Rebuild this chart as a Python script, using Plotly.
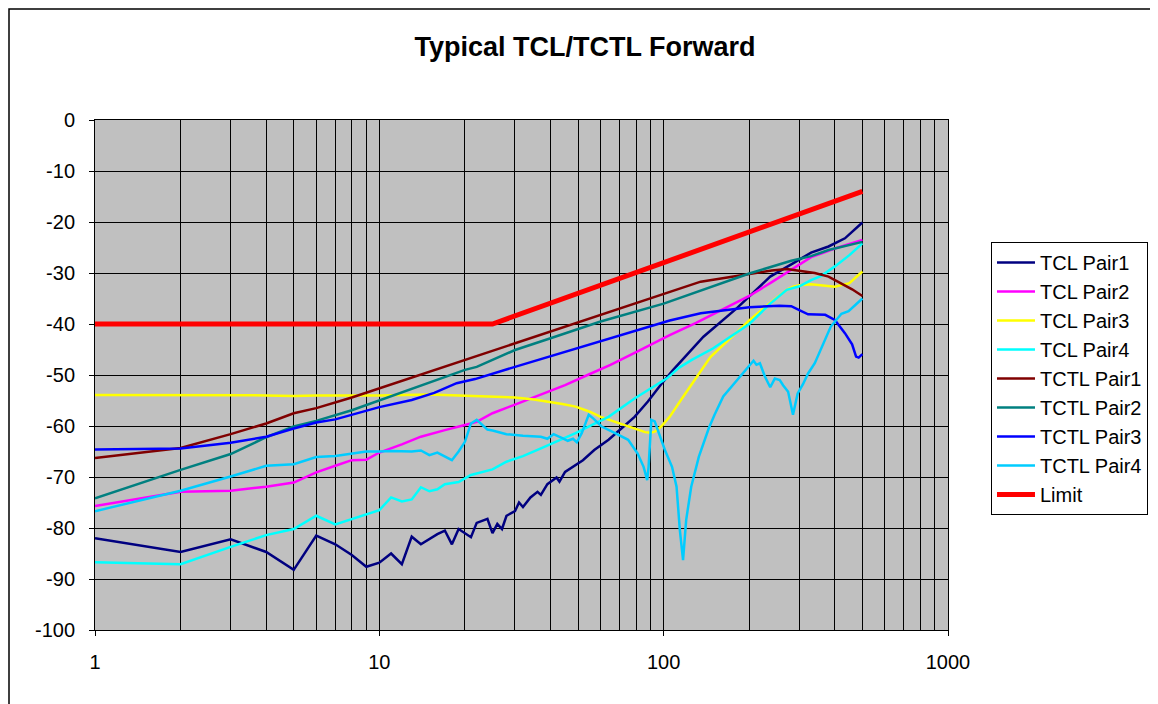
import plotly.graph_objects as go

# 频率 (MHz) 与各曲线数值 (dB)
tcl1_f = [1, 2, 3, 4, 5, 6, 7, 8, 9, 10, 11, 12, 13, 14, 16, 17, 18, 19, 21, 22, 24, 25, 26, 27, 28, 30,
          31, 32, 34, 36, 37, 39, 42, 43, 45, 48, 52, 57, 64, 71, 79, 88, 98, 108, 138, 181, 200, 237,
          285, 330, 380, 434, 500]
tcl1_v = [-82, -84.7, -82.2, -84.7, -88.2, -81.5, -83.2, -85.3, -87.6, -86.8, -85, -87.1, -81.7, -83.2,
          -81.2, -80.5, -83.2, -80.2, -81.8, -79, -78.2, -81, -79.2, -80.2, -77.6, -76.7, -75, -75.9, -74,
          -72.9, -73.5, -71.4, -70.1, -70.9, -69, -68, -66.7, -64.7, -62.7, -60.5, -58.2, -55.2, -51.8,
          -49, -42.5, -36.9, -34.6, -30.7, -28.1, -26, -24.8, -23.2, -20.1]

tcl2_f = [1, 2, 3, 4, 5, 6, 7, 8, 9, 10, 12, 14, 17, 18, 20, 22, 25, 30, 33, 36, 45, 54, 65, 80, 93, 105,
          130, 160, 200, 240, 280, 330, 400, 500]
tcl2_v = [-75.7, -72.9, -72.7, -71.9, -71.1, -69.1, -67.8, -66.7, -66.6, -65.2, -63.6, -62.1, -60.8, -60.5,
          -59.8, -59.2, -57.5, -55.8, -54.9, -54.1, -52.0, -50.0, -48.0, -45.5, -43.6, -42.2, -39.8, -37.2,
          -34.5, -31.8, -29.4, -26.9, -25.2, -23.5]

tcl3_f = [1, 2, 3, 4, 5, 6, 8, 10, 15, 20, 25, 30, 35, 39, 44, 49, 55, 60, 66, 71, 79, 86, 90, 93, 98,
          105, 115, 130, 146, 170, 200, 235, 271, 285, 300, 330, 400, 450, 500]
tcl3_v = [-53.9, -53.9, -53.9, -54.0, -54.1, -54.0, -54.0, -54.0, -53.8, -54.0, -54.2, -54.4, -54.8, -55.2,
          -55.7, -56.2, -57.2, -58.2, -59.0, -59.5, -60.5, -61.2, -61.3, -61.1, -60.1, -58.2, -54.9, -50.5,
          -46.5, -43.0, -39.3, -36.0, -33.3, -32.7, -32.4, -32.2, -32.7, -32.0, -29.7]

tcl4_f = [1, 2, 3, 4, 5, 6, 7, 8, 9, 10, 11, 12, 13, 14, 15, 16, 17, 19, 21, 25, 28, 32, 37, 42, 49, 56,
          64, 79, 88, 97, 103, 113, 126, 149, 167, 200, 237, 271, 300, 330, 360, 400, 450, 500]
tcl4_v = [-86.7, -87.1, -83.7, -81.4, -80.2, -77.6, -79.3, -78.2, -77.3, -76.5, -74.0, -74.8, -74.4, -72.0,
          -72.8, -72.4, -71.4, -71.0, -69.6, -68.5, -67.0, -65.9, -64.4, -63.1, -61.4, -59.8, -58.2, -54.6,
          -53.0, -51.6, -50.6, -48.6, -47.0, -44.8, -43.0, -40.0, -36.0, -33.3, -32.6, -31.4, -30.5, -28.7,
          -26.5, -24.2]

tctl1_f = [1, 2, 3, 4, 5, 6, 8, 10, 14, 20, 30, 40, 60, 93, 135, 200, 240, 271, 300, 340, 380, 422, 460, 500]
tctl1_v = [-66.3, -64.3, -61.6, -59.5, -57.5, -56.5, -54.4, -52.6, -50.0, -47.1, -43.8, -41.5, -38.2, -34.6,
           -31.7, -30.2, -29.5, -29.2, -29.5, -30.0, -30.7, -32.0, -33.2, -34.5]

tctl2_f = [1, 2, 3, 4, 5, 6, 8, 10, 14, 16, 20, 22, 30, 40, 60, 100, 200, 281, 330, 380, 500]
tctl2_v = [-74.2, -68.6, -65.5, -62.2, -60.1, -59.0, -56.9, -55.0, -52.1, -51.0, -49.0, -48.4, -45.1, -42.8,
           -39.5, -36.0, -30.1, -27.6, -26.7, -25.5, -23.9]

tctl3_f = [1, 2, 3, 4, 5, 6, 7, 8, 9, 10, 13, 15.6, 18.7, 21.7, 30, 40, 60, 93, 105, 135, 200, 255, 281,
           300, 322, 370, 400, 434, 460, 475, 485, 500]
tctl3_v = [-64.6, -64.4, -63.3, -62.1, -60.5, -59.3, -58.7, -57.8, -56.9, -56.3, -54.9, -53.5, -51.6, -50.8,
           -48.4, -46.3, -43.3, -40.2, -39.3, -37.9, -36.7, -36.4, -36.5, -37.3, -38.1, -38.2, -39.2, -41.8,
           -44.0, -46.4, -46.6, -45.9]

tctl4_f = [1, 2, 3, 4, 5, 6, 7, 8, 9, 10, 11, 13, 14, 15, 16, 18, 19, 20, 21, 22, 24, 25, 28, 32, 37, 39,
           41, 44, 46, 48, 49.5, 51.5, 54.5, 56.5, 60.5, 67.5, 75, 81, 85, 87.5, 88.5, 90.5, 93, 101, 107,
           111, 114, 117, 120, 125, 133, 144, 151, 162, 183, 207, 212, 218, 227, 237, 246, 256, 263, 274,
           285, 296, 309, 322, 340, 358, 387, 422, 447, 500]
tctl4_v = [-76.7, -72.7, -69.9, -67.8, -67.5, -66.1, -65.9, -65.4, -65.0, -65.0, -64.9, -65.0, -64.8, -65.7,
           -65.2, -66.7, -65.0, -63.1, -59.5, -58.8, -60.7, -60.9, -61.6, -61.9, -62.1, -62.5, -61.6, -62.4,
           -62.9, -62.5, -63.2, -61.4, -57.8, -58.5, -60.1, -61.4, -62.7, -65.4, -68.0, -70.6, -68.0, -58.8,
           -59.1, -64.7, -68.0, -71.9, -80.4, -86.3, -78.4, -71.9, -66.0, -60.5, -57.8, -54.2, -50.7, -47.2,
           -48.0, -47.7, -50.3, -52.4, -50.7, -51.0, -52.0, -53.3, -57.8, -53.6, -51.8, -49.7, -47.7, -44.8,
           -40.5, -38.0, -37.5, -35.0]

limit_f = [1, 25, 500]
limit_v = [-40, -40, -14]

series = [
    ('TCL Pair1', tcl1_f, tcl1_v, '#000080', 2.5),
    ('TCL Pair2', tcl2_f, tcl2_v, '#FF00FF', 2.5),
    ('TCL Pair3', tcl3_f, tcl3_v, '#FFFF00', 2.5),
    ('TCL Pair4', tcl4_f, tcl4_v, '#00FFFF', 2.5),
    ('TCTL Pair1', tctl1_f, tctl1_v, '#800000', 2.5),
    ('TCTL Pair2', tctl2_f, tctl2_v, '#008080', 2.5),
    ('TCTL Pair3', tctl3_f, tctl3_v, '#0000FF', 2.5),
    ('TCTL Pair4', tctl4_f, tctl4_v, '#00CCFF', 2.5),
    ('Limit', limit_f, limit_v, '#FF0000', 5),
]

y_ticks = list(range(-100, 1, 10))
x_major = [1, 10, 100, 1000]
x_minor = [m * d for d in (1, 10, 100) for m in range(2, 10)]

# 页面 body 默认有 8px 边距
W, H = 1150, 696
L, T, PW, PH = 87, 112, 853, 510
B = H - T - PH

fig = go.Figure()
for name, f, v, color, w in series:
    fig.add_trace(go.Scatter(
        x=f, y=v, mode='lines', name=name, legendgroup=name,
        line=dict(color=color, width=w)
    ))

fig.update_layout(
    width=W, height=H,
    margin=dict(l=L, r=W - L - PW, t=T, b=B, autoexpand=False),
    paper_bgcolor='white',
    plot_bgcolor='#C0C0C0',
    font=dict(family='Liberation Sans, Arial', size=20, color='black'),
    title=dict(text='<b>Typical TCL/TCTL Forward</b>', x=577 / W, xref='container', xanchor='center',
               y=1 - 39 / H, yref='container', yanchor='middle', font=dict(size=27)),
    showlegend=True,
    legend=dict(x=1.0504, y=0.7608, xanchor='left', yanchor='top', bordercolor='black', borderwidth=1,
                bgcolor='white', font=dict(size=20), tracegroupgap=0, itemwidth=38),
    hovermode=False,
    # 图表区外框 (右、下两边在画面之外)
    shapes=[dict(type='rect', xref='paper', yref='paper',
                 x0=(1 - L) / PW, x1=(W + 20 - L) / PW,
                 y0=-(B + 20) / PH, y1=(T + PH - 1) / PH,
                 line=dict(color='black', width=1.5), fillcolor='rgba(0,0,0,0)', layer='below')]
)

fig.update_xaxes(
    type='log', range=[0, 3],
    tickvals=x_major, ticktext=[str(v) for v in x_major],
    ticks='outside', ticklen=5, tickcolor='black', ticklabelstandoff=9,
    showgrid=True, gridcolor='black', gridwidth=1,
    minor=dict(tickvals=x_minor, showgrid=True, gridcolor='black', gridwidth=1, ticks=''),
    showline=True, linecolor='black', mirror=True, zeroline=False
)
fig.update_yaxes(
    range=[-100, 0],
    tickvals=y_ticks, ticktext=[str(v) for v in y_ticks],
    ticks='outside', ticklen=5, tickcolor='black', ticklabelstandoff=10,
    showgrid=True, gridcolor='black', gridwidth=1,
    showline=True, linecolor='black', mirror=True, zeroline=False
)

fig.write_html("out.html")
